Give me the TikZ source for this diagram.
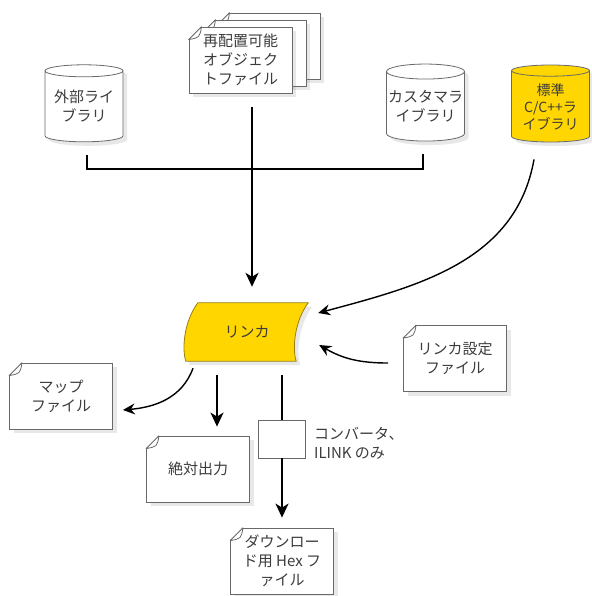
\documentclass[tikz,border=0pt]{standalone}
\usepackage{fontspec}
\setmainfont{Noto Sans CJK JP}
\usepackage{tikz}
\usetikzlibrary{positioning,shapes.geometric,shadows,arrows.meta,backgrounds}

\definecolor{gold}{RGB}{255,214,0}
\definecolor{goldline}{RGB}{150,128,20}
\definecolor{txt}{RGB}{60,60,60}
\definecolor{edge}{RGB}{105,105,105}

% dog-eared top left corner of a file node
\newcommand{\dogear}[1]{%
  \fill[white] ([shift={(-1pt,1pt)}]#1.north west) -- ([xshift=13.5pt,yshift=1pt]#1.north west)
    -- ([xshift=-1pt,yshift=-13.5pt]#1.north west) -- cycle;
  \draw[edge,line width=0.8pt,line join=round] ([xshift=13pt]#1.north west) -- ([yshift=-13pt]#1.north west)
    .. controls ([xshift=11pt,yshift=-11pt]#1.north west) .. ([xshift=13pt]#1.north west);
}

\begin{document}
\begin{tikzpicture}[x=1pt,y=1pt,
  font=\fontsize{15}{19}\selectfont,
  text=txt,
  doc/.style={
    draw=edge,
    fill=white,
    line width=0.8pt,
    minimum width=103pt,
    minimum height=66pt,
    inner sep=2pt,
    align=center,
    drop shadow={opacity=0.18,shadow xshift=4pt,shadow yshift=-4pt}
  },
  lib/.style={
    cylinder,
    shape border rotate=90,
    aspect=0.2,
    draw=edge,
    fill=white,
    line width=0.8pt,
    minimum width=78pt,
    minimum height=77pt,
    inner sep=0pt,
    align=center,
    drop shadow={opacity=0.18,shadow xshift=4pt,shadow yshift=-4pt}
  },
  arr/.style={-{Stealth[length=14pt,width=13pt,inset=4pt]},line width=2pt},
  curvearr/.style={-{Stealth[length=12pt,width=11pt,inset=4pt]},line width=1.4pt}]

  \useasboundingbox (0,0) rectangle (591,-596);

  % relocatable object files, stacked
  \node[doc] (objC) at (268.5,-46) {};
  \dogear{objC}
  \node[doc] (objB) at (254.5,-53) {};
  \dogear{objB}
  \node[doc] (obj) at (240.5,-60) {再配置可能\\オブジェク\\トファイル};
  \dogear{obj}

  % libraries
  \node[lib] (extlib) at (84,-106.5) {外部ライ\\ブラリ};
  \node[lib] (custlib) at (425.5,-106.5) {カスタマラ\\イブラリ};
  \node[lib,fill=gold,font=\fontsize{14}{17}\selectfont] (stdlib) at (550.5,-106.5) {標準\\C/C++ラ\\イブラリ};

  % linker
  \node[minimum width=110pt,minimum height=58pt,inner sep=0pt] (linker) at (247,-332) {リンカ};
  \begin{scope}[on background layer]
    \draw[draw=goldline,fill=gold,line width=0.8pt,
      drop shadow={opacity=0.18,shadow xshift=4pt,shadow yshift=-4pt}]
      ([xshift=6pt]linker.north west) -- ([xshift=6pt]linker.north east)
      .. controls +(-14,-19) and +(-4,12) .. ([xshift=-6pt]linker.south east)
      -- ([xshift=-6pt]linker.south west)
      .. controls +(-4,12) and +(-14,-19) .. ([xshift=6pt]linker.north west) -- cycle;
  \end{scope}

  \node[doc] (cfg) at (455,-358.5) {リンカ設定\\ファイル};
  \dogear{cfg}
  \node[doc] (map) at (61,-396) {マップ\\ファイル};
  \dogear{map}
  \node[doc] (abs) at (198,-469) {絶対出力};
  \dogear{abs}
  \node[draw=edge,fill=white,line width=0.8pt,minimum width=47pt,minimum height=38pt] (conv) at (282,-439) {};
  \node[right=8pt of conv,align=left,yshift=-4.5pt,inner sep=0pt] (convlbl) {コンバータ、\\ILINK のみ};
  \node[doc] (hex) at (282,-561) {ダウンロー\\ド用 Hex フ\\ァイル};
  \dogear{hex}

  % connectors
  \draw[line width=2pt] ([xshift=3pt,yshift=-13pt]extlib.south) -- ++(0,-14)
    -| ([xshift=-3pt,yshift=-13pt]custlib.south);
  \draw[arr] ([xshift=11.5pt,yshift=-14pt]obj.south) -- ([xshift=5pt,yshift=16pt]linker.north);
  \draw[curvearr] ([xshift=-16.5pt,yshift=-17pt]stdlib.south) to[out=-100,in=15] ([xshift=16pt,yshift=19pt]linker.east);
  \draw[curvearr] ([xshift=-15pt,yshift=-4.5pt]cfg.west) to[out=180,in=-30] ([xshift=17pt,yshift=-13pt]linker.east);
  \draw[curvearr] ([xshift=-54pt,yshift=-7pt]linker.south) to[out=-110,in=5] ([xshift=10pt,yshift=-14pt]map.east);
  \draw[arr] ([xshift=-30pt,yshift=-14pt]linker.south) -- ([xshift=19pt,yshift=9pt]abs.north);
  \draw[line width=2pt] ([xshift=35pt,yshift=-14pt]linker.south) -- (conv.north);
  \draw[arr] (conv.south) -- ([yshift=10pt]hex.north);
\end{tikzpicture}
\end{document}
